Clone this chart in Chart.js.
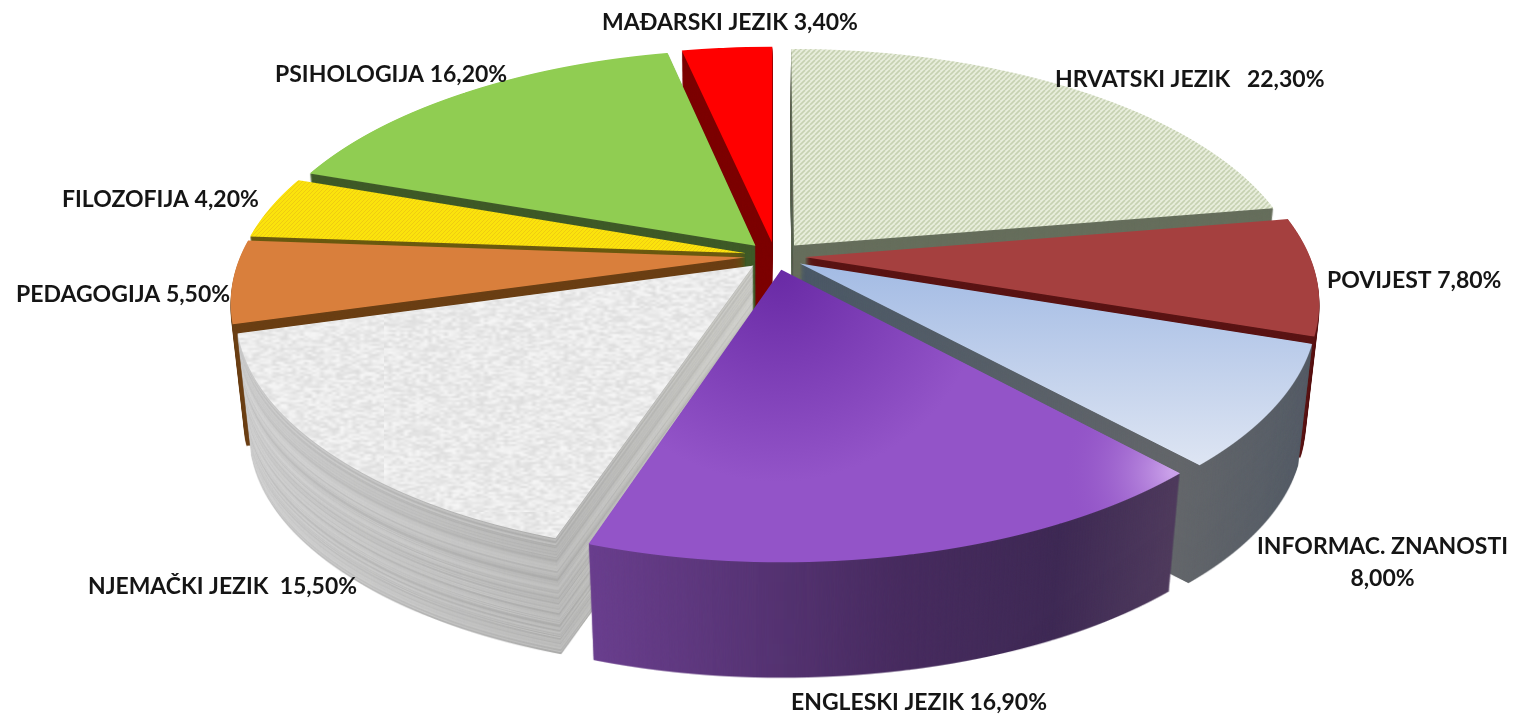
<!DOCTYPE html>
<html>
<head>
<meta charset="utf-8">
<style>
  html, body { margin: 0; padding: 0; background: #fff; }
  canvas { display: block; }
</style>
<script src="https://cdn.jsdelivr.net/npm/chart.js@4/dist/chart.umd.min.js"></script>
</head>
<body>
<canvas id="pie" width="1522" height="714"></canvas>
<script>
const categories = ['HRVATSKI JEZIK', 'POVIJEST', 'INFORMAC. ZNANOSTI', 'ENGLESKI JEZIK', 'NJEMAČKI JEZIK', 'PEDAGOGIJA', 'FILOZOFIJA', 'PSIHOLOGIJA', 'MAĐARSKI JEZIK']
const shares = [22.3, 7.8, 8.0, 16.9, 15.5, 5.5, 4.2, 16.2, 3.4]

// where each label sits: x, middle y, width, gap before the number
const labelBoxes = [
    [1055, 80, 273, '   '], [1327, 281, 176, ' '], [1257, 547, 251, '\n'], [791, 703, 256, ' '],
    [88, 587, 269, '  '], [16, 295, 217, ' '], [62, 200, 211, ' '], [275, 75, 235, ' '], [602, 23, 259, ' ']
]

// back slices first so the front ones cover their walls
const paintOrder = [8, 0, 7, 6, 1, 5, 2, 4, 3]

const W = 1522, H = 714
const cx = 775, cy = 256          // pie centre on screen
const halfW = 505, halfH = 235    // size of the tilted disc
const tilt = 0.178                // how much the far side shrinks
const explode = 21
const wallSteps = 115, wallShrink = 0.026, vanishX = 770, vanishY = 5000

function newLayer() {
    const c = document.createElement('canvas')
    c.width = W
    c.height = H
    return c
}

function hash(a, b) {
    const s = Math.sin(a * 127.1 + b * 311.7) * 43758.5453
    return s - Math.floor(s)
}

function stripes(ctx, bg, fg, size, lineW) {
    const c = document.createElement('canvas')
    c.width = size
    c.height = size
    const g = c.getContext('2d')
    g.fillStyle = bg
    g.fillRect(0, 0, size, size)
    g.strokeStyle = fg
    g.lineWidth = lineW
    for (let i = -size; i <= size * 2; i += size) {
        g.beginPath()
        g.moveTo(i, size)
        g.lineTo(i + size, 0)
        g.stroke()
    }
    return ctx.createPattern(c, 'repeat')
}

function marble(ctx, base, spread) {
    const small = document.createElement('canvas')
    small.width = 96
    small.height = 128
    const g = small.getContext('2d')
    for (let x = 0; x < 96; x++) {
        for (let y = 0; y < 128; y++) {
            const v = Math.round(base + (hash(x, y) - 0.5) * spread)
            g.fillStyle = `rgb(${v},${v},${v})`
            g.fillRect(x, y, 1, 1)
        }
    }
    const big = document.createElement('canvas')
    big.width = 384
    big.height = 256
    const b = big.getContext('2d')
    b.imageSmoothingEnabled = true
    b.drawImage(small, 0, 0, 384, 256)
    return ctx.createPattern(big, 'repeat')
}

function hGrad(ctx, stops) {
    const g = ctx.createLinearGradient(0, 0, W, 0)
    stops.forEach(s => g.addColorStop(s[0] / W, s[1]))
    return g
}

// top face of a slice, painted over its silhouette
function paintFace(ctx, i) {
    const fill = p => { ctx.fillStyle = p; ctx.fillRect(0, 0, W, H) }
    if (i === 0) fill(stripes(ctx, '#e8eddc', '#c6d1b2', 5, 1.6))
    if (i === 1) fill('#a5403f')
    if (i === 2) {
        const g = ctx.createLinearGradient(0, 265, 0, 470)
        g.addColorStop(0, '#a3bbe4')
        g.addColorStop(1, '#dfe6f3')
        fill(g)
    }
    if (i === 3) {
        const g = ctx.createRadialGradient(778, 272, 5, 778, 272, 210)
        g.addColorStop(0, '#6a2ba6')
        g.addColorStop(1, '#9354c8')
        fill(g)
        ctx.globalCompositeOperation = 'source-atop'
        const r = ctx.createRadialGradient(1175, 472, 5, 1175, 472, 110)
        r.addColorStop(0, 'rgba(205,165,235,0.95)')
        r.addColorStop(1, 'rgba(150,90,200,0)')
        fill(r)
    }
    if (i === 4) fill(marble(ctx, 234, 26))
    if (i === 5) fill('#d97f3c')
    if (i === 6) fill(stripes(ctx, '#fbe30c', '#eecb12', 4, 1))
    if (i === 7) fill('#90cd52')
    if (i === 8) fill('#ff0000')
}

function wallPaint(ctx, i) {
    if (i === 0) return '#666e5c'
    if (i === 1) return '#5a1414'
    if (i === 2) return hGrad(ctx, [[790, '#4a5866'], [1180, '#64676b'], [1310, '#565d67']])
    if (i === 3) return hGrad(ctx, [[590, '#6a3f8e'], [900, '#482c60'], [1060, '#3f2a55'], [1175, '#4f3b5d']])
    if (i === 4) return hGrad(ctx, [[235, '#cfcfcf'], [555, '#b9b9b8'], [750, '#cbcbc6']])
    if (i === 5) return '#6b3f14'
    if (i === 6) return '#6b5a10'
    if (i === 7) return '#3f5a28'
    return '#7d0000'
}

// the disc is tilted, so every pixel row gets its own scale
function silhouette(arc) {
    const layer = newLayer()
    const ctx = layer.getContext('2d')
    const R = arc.outerRadius
    const mid = (arc.startAngle + arc.endAngle) / 2
    const toDisc = t => t / (halfH + t * tilt)
    for (let y = 0; y < H; y++) {
        const a = toDisc(y - cy), b = toDisc(y + 1 - cy)
        const sy = 1 / ((b - a) * R)
        const sx = halfW / (R * (1 - tilt * (a + b) / 2))
        ctx.save()
        ctx.beginPath()
        ctx.rect(0, y, W, 1)
        ctx.clip()
        ctx.setTransform(sx, 0, 0, sy, cx - sx * arc.x, y - sy * (arc.y + a * R))
        ctx.translate(Math.cos(mid) * explode, Math.sin(mid) * explode)
        arc.draw(ctx)
        ctx.restore()
    }
    return layer
}

function painted(shape, paint, tone) {
    const layer = newLayer()
    const ctx = layer.getContext('2d')
    ctx.drawImage(shape, 0, 0)
    ctx.globalCompositeOperation = 'source-in'
    if (typeof paint === 'function') paint(ctx)
    else {
        ctx.fillStyle = paint
        ctx.fillRect(0, 0, W, H)
    }
    if (tone) {
        ctx.globalCompositeOperation = 'source-atop'
        ctx.fillStyle = tone
        ctx.fillRect(0, 0, W, H)
    }
    return layer
}

const pie3d = {
    id: 'pie3d',
    beforeDraw(chart) {
        chart.ctx.fillStyle = '#fff'
        chart.ctx.fillRect(0, 0, W, H)
    },
    beforeDatasetsDraw(chart) {
        const arcs = chart.getDatasetMeta(0).data
        const ctx = chart.ctx
        paintOrder.forEach(i => {
            const shape = silhouette(arcs[i])
            const paint = wallPaint(ctx, i)
            // the grey marble slice has streaky walls
            const tones = i === 4
                ? ['rgba(255,255,255,0.12)', null, 'rgba(0,0,0,0.04)', 'rgba(255,255,255,0.06)', 'rgba(0,0,0,0.07)']
                : [null]
            const walls = tones.map(t => painted(shape, paint, t))
            ctx.save()
            for (let k = wallSteps; k >= 1; k--) {
                const s = 1 - wallShrink * k / wallSteps
                ctx.setTransform(s, 0, 0, s, vanishX * (1 - s), vanishY * (1 - s))
                ctx.drawImage(walls[Math.floor(hash(k, 7) * walls.length)], 0, 0)
            }
            ctx.setTransform(1, 0, 0, 1, 0, 0)
            ctx.drawImage(painted(shape, c => paintFace(c, i)), 0, 0)
            ctx.restore()
        })
        return false
    },
    afterDraw(chart) {
        const ctx = chart.ctx
        ctx.save()
        ctx.fillStyle = '#151515'
        ctx.font = '700 23px Lato'
        ctx.textBaseline = 'middle'
        categories.forEach((name, i) => {
            const [x, y, width, gap] = labelBoxes[i]
            const value = shares[i].toFixed(2).replace('.', ',') + '%'
            if (gap === '\n') {
                ctx.textAlign = 'left'
                ctx.fillText(name, x, y, width)
                ctx.textAlign = 'center'
                ctx.fillText(value, x + width / 2, y + 32)
                ctx.textAlign = 'left'
            } else {
                ctx.fillText(name + gap + value, x, y, width)
            }
        })
        ctx.restore()
    }
}

new Chart(document.getElementById('pie'), {
    type: 'pie',
    data: {
        labels: categories,
        datasets: [{
            data: shares,
            borderWidth: 0,
            backgroundColor: '#000'
        }]
    },
    options: {
        responsive: false,
        animation: false,
        plugins: { legend: { display: false }, tooltip: { enabled: false } }
    },
    plugins: [pie3d]
})
</script>
</body>
</html>
